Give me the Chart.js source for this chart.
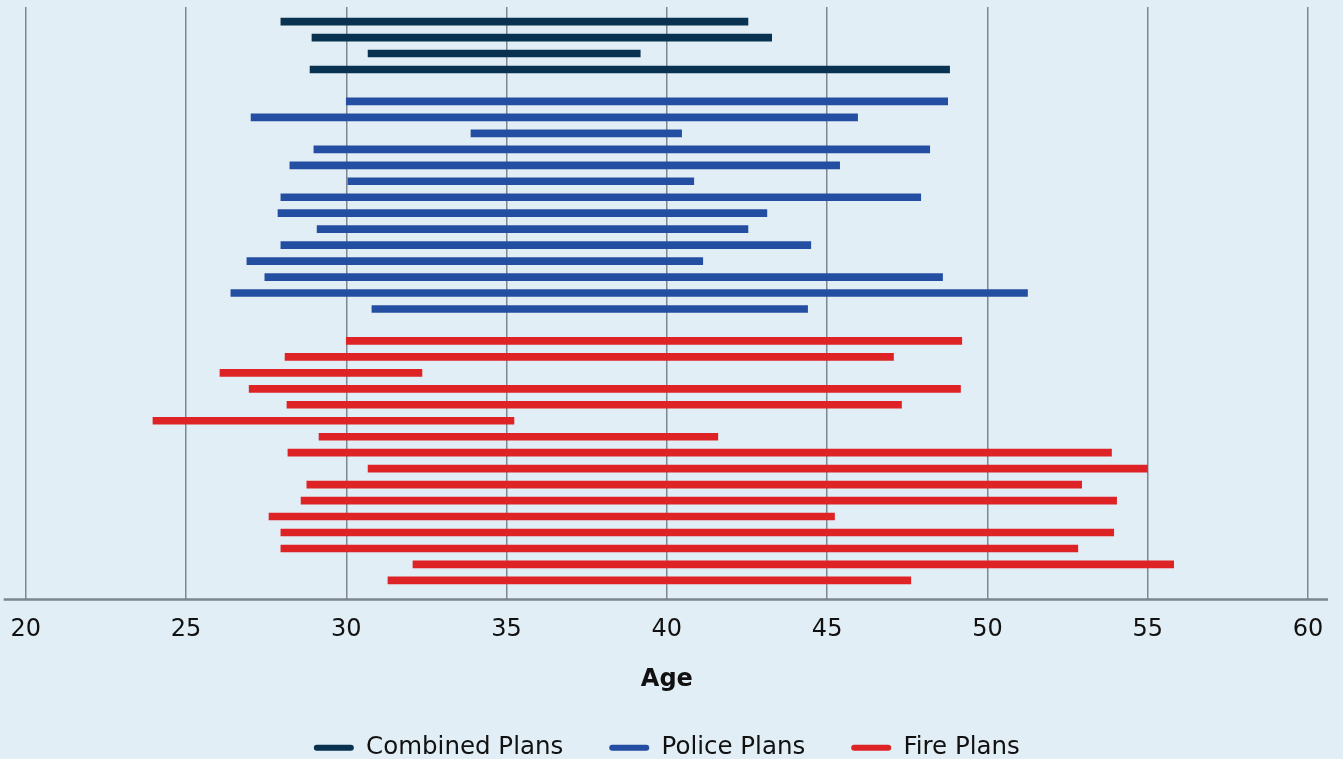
<!DOCTYPE html>
<html>
<head>
<meta charset="utf-8">
<script src="https://cdn.jsdelivr.net/npm/chart.js@4"></script>
<style>
  html, body { margin: 0; padding: 0; background: #e1eef5; overflow: hidden; }
  #wrap { position: relative; width: 1343px; height: 770px; }
</style>
</head>
<body>
<div id="wrap"><canvas id="c"></canvas></div>
<script>
// Age ranges (start, end) per plan, top to bottom
const combinedStart = [27.96, 28.93, 30.68, 28.87];
const combinedEnd   = [42.53, 43.27, 39.17, 48.82];

const policeStart = [30.00, 27.03, 33.89, 28.99, 28.24, 30.05, 27.96, 27.87, 29.09, 27.96, 26.90, 27.46, 26.40, 30.80];
const policeEnd   = [48.76, 45.95, 40.46, 48.20, 45.39, 40.84, 47.92, 43.12, 42.53, 44.49, 41.12, 48.60, 51.25, 44.39];

const fireStart = [30.00, 28.09, 26.06, 26.97, 28.15, 23.97, 29.15, 28.18, 30.68, 28.77, 28.59, 27.59, 27.96, 27.96, 32.08, 31.30];
const fireEnd   = [49.20, 47.07, 32.36, 49.16, 47.32, 35.23, 41.59, 53.87, 54.99, 52.94, 54.03, 45.23, 53.94, 52.82, 55.81, 47.61];

const xTicks = [20, 25, 30, 35, 40, 45, 50, 55, 60];
const seriesNames = ['Combined Plans', 'Police Plans', 'Fire Plans'];
const seriesColors = ['#08324f', '#244ea2', '#de2326'];

// rows: groups stacked top to bottom with one empty row between groups
function rows(starts, ends, offset) {
  return starts.map((s, i) => ({ x: [s, ends[i]], y: offset + i }));
}
const combinedOffset = 0;
const policeOffset = combinedStart.length + 1;
const fireOffset = policeOffset + policeStart.length + 1;
const lastRow = fireOffset + fireStart.length - 1;

const FONT = "'DejaVu Sans', sans-serif";

// axis baseline extending slightly beyond the first/last gridline
const baseline = {
  id: 'baseline',
  afterDatasetsDraw(chart) {
    const { ctx, chartArea } = chart;
    ctx.save();
    ctx.strokeStyle = '#7d868f';
    ctx.lineWidth = 2.5;
    ctx.beginPath();
    ctx.moveTo(chartArea.left - 22, chartArea.bottom);
    ctx.lineTo(chartArea.right + 20, chartArea.bottom);
    ctx.stroke();
    ctx.restore();
  }
};

new Chart(document.getElementById('c'), {
  type: 'bar',
  data: {
    datasets: [
      { label: seriesNames[0], data: rows(combinedStart, combinedEnd, combinedOffset), backgroundColor: seriesColors[0] },
      { label: seriesNames[1], data: rows(policeStart, policeEnd, policeOffset), backgroundColor: seriesColors[1] },
      { label: seriesNames[2], data: rows(fireStart, fireEnd, fireOffset), backgroundColor: seriesColors[2] }
    ]
  },
  plugins: [baseline],
  options: {
    indexAxis: 'y',
    responsive: true,
    maintainAspectRatio: false,
    animation: false,
    grouped: false,
    barThickness: 7,
    borderSkipped: false,
    layout: { padding: { top: 7, left: 25.7, right: 35, bottom: 0 } },
    scales: {
      x: {
        type: 'linear',
        min: 20,
        max: 60,
        afterBuildTicks: (scale) => { scale.ticks = xTicks.map(v => ({ value: v })); },
        afterFit: (scale) => { scale.paddingLeft = 0; scale.paddingRight = 0; },
        grid: { color: '#7f8891', lineWidth: 1.5, drawTicks: false, tickLength: 0 },
        border: { display: false },
        ticks: { color: '#111111', font: { family: FONT, size: 24 }, padding: 16, maxRotation: 0, autoSkip: false },
        title: { display: true, text: 'Age', color: '#111111', font: { family: FONT, size: 24, weight: 'bold' }, padding: { top: 5, bottom: -4.5 } }
      },
      y: {
        type: 'linear',
        display: false,
        offset: false,
        reverse: true,
        min: -0.915,
        max: lastRow + 1.19
      }
    },
    plugins: {
      legend: {
        position: 'bottom',
        labels: {
          color: '#111111',
          font: { family: FONT, size: 24.5 },
          boxWidth: 40,
          boxHeight: 6,
          useBorderRadius: true,
          borderRadius: 3,
          padding: 46
        }
      },
      tooltip: { enabled: false }
    }
  }
});
</script>
</body>
</html>
